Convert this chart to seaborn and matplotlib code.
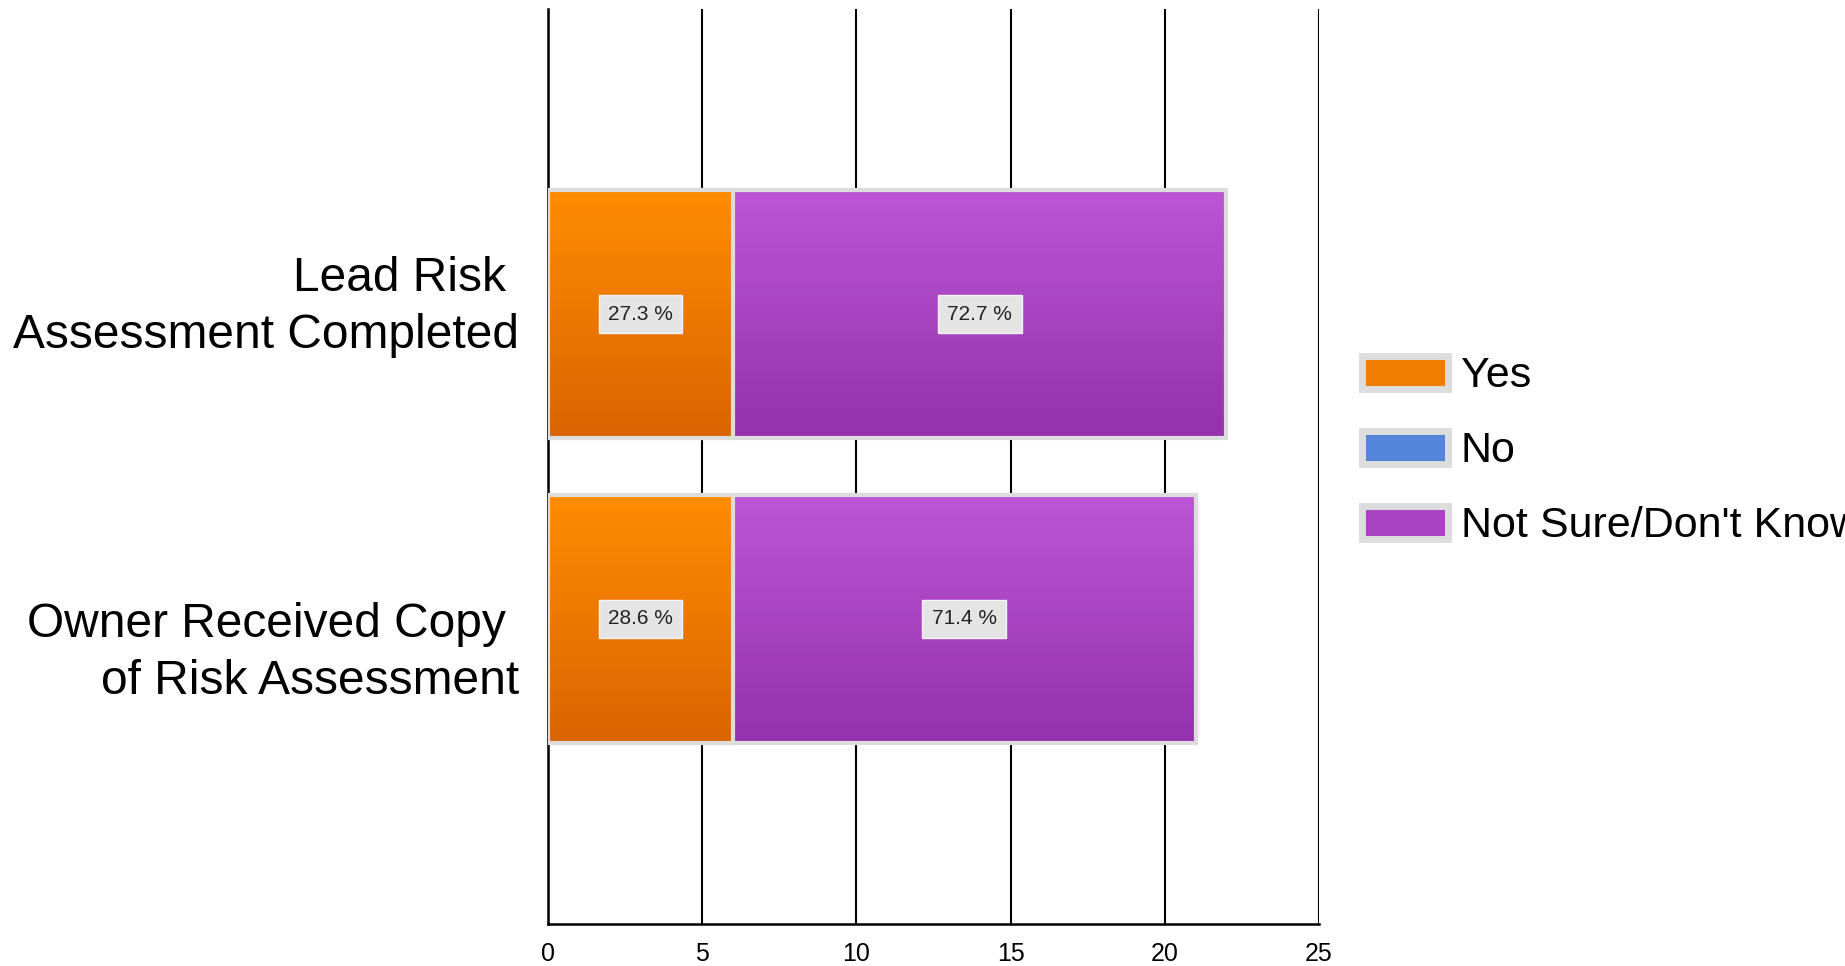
import matplotlib
matplotlib.use('Agg')
import matplotlib.pyplot as plt
import seaborn as sns
import numpy as np
import pandas as pd
from matplotlib.patches import Patch
from matplotlib.colors import LinearSegmentedColormap

# data
categories = ['Lead Risk \nAssessment Completed', 'Owner Received Copy \nof Risk Assessment']
yes_counts = [6, 6]
no_counts = [0, 0]
not_sure_counts = [16, 15]
series_names = ['Yes', 'No', 'Not Sure/Don\'t Know']
x_ticks = [0, 5, 10, 15, 20, 25]

# gradient colours (top, bottom) per series
grad_colors = {
    'Yes': ('#FF8C00', '#D96400'),
    'No': ('#5E95E6', '#4676CC'),
    'Not Sure/Don\'t Know': ('#BC56D5', '#9631AD'),
}
flat_colors = {'Yes': '#F07D00', 'No': '#5585DA', 'Not Sure/Don\'t Know': '#A943C1'}

df = pd.DataFrame({'category': categories, 'Yes': yes_counts,
                   'No': no_counts, 'NotSure': not_sure_counts})
df['total'] = df['Yes'] + df['No'] + df['NotSure']

sns.set_style('white')
plt.rcParams['font.family'] = ['Liberation Sans', 'DejaVu Sans']
plt.rcParams['text.color'] = 'black'
plt.rcParams['xtick.color'] = 'black'
plt.rcParams['ytick.color'] = 'black'

fig = plt.figure(figsize=(18.45, 9.66), dpi=100, facecolor='white')
ax = fig.add_axes([548 / 1845, 1 - 924 / 966, (1319 - 548) / 1845, (924 - 9) / 966])
ax.set_facecolor('white')

# stacked bars: full length (purple) first, then the Yes part on top
sns.barplot(data=df, x='total', y='category', orient='h', color=flat_colors['Not Sure/Don\'t Know'],
            saturation=1, width=0.81, edgecolor='#DDDDDD', linewidth=3, ax=ax, zorder=2)
n_first = len(ax.patches)
sns.barplot(data=df, x='Yes', y='category', orient='h', color=flat_colors['Yes'],
            saturation=1, width=0.81, edgecolor='#DDDDDD', linewidth=3, ax=ax, zorder=4)


def gradient_fill(patch, top, bottom, z):
    x0, y0 = patch.get_x(), patch.get_y()
    w, h = patch.get_width(), patch.get_height()
    cmap = LinearSegmentedColormap.from_list('g', [top, bottom])
    grad = np.linspace(0, 1, 256).reshape(-1, 1)
    im = ax.imshow(grad, cmap=cmap, aspect='auto', origin='upper',
                   extent=(x0, x0 + w, y0 + h, y0), zorder=z, interpolation='bicubic')
    im.set_clip_path(patch)
    patch.set_facecolor('none')


for i, p in enumerate(ax.patches):
    if i < n_first:
        gradient_fill(p, *grad_colors['Not Sure/Don\'t Know'], 1.9)
    else:
        gradient_fill(p, *grad_colors['Yes'], 3.9)

# percentage labels
for i, row in df.iterrows():
    yes_pct = row['Yes'] / row['total'] * 100
    ns_pct = row['NotSure'] / row['total'] * 100
    box = dict(boxstyle='square,pad=0.45', facecolor='#E4E4E4', edgecolor='#F4F4F4', lw=1)
    ax.text(row['Yes'] / 2, i, f'{yes_pct:.1f} %', ha='center', va='center',
            fontsize=15, color='#222222', bbox=box, zorder=6)
    ax.text(row['Yes'] + row['NotSure'] / 2, i, f'{ns_pct:.1f} %', ha='center', va='center',
            fontsize=15, color='#222222', bbox=box, zorder=6)

ax.set_xlim(0, 25)
ax.set_ylim(2, -1)
ax.set_xticks(x_ticks)
ax.set_xticklabels([str(t) for t in x_ticks], fontsize=18)
ax.set_yticks(range(len(categories)))
ax.set_yticklabels([''] * len(categories))
ax.set_yticks(list(ax.get_ylim()), minor=True)
ax.set_xlabel('')
ax.set_ylabel('')

# category labels, sitting a bit off-centre like in the reference
for i, (cat, dy) in enumerate(zip(categories, [5, -24.5])):
    ax.annotate(cat, xy=(0, i), xycoords=('axes fraction', 'data'),
                xytext=(-21, dy), textcoords='offset points',
                ha='right', va='center', fontsize=34.5, linespacing=1.33, color='black')

ax.grid(axis='x', color='black', linewidth=1.5)
ax.grid(axis='y', visible=False)
ax.set_axisbelow(True)
for s in ['top', 'right']:
    ax.spines[s].set_visible(False)
for s in ['left', 'bottom']:
    ax.spines[s].set_color('black')
    ax.spines[s].set_linewidth(1.8)
ax.tick_params(axis='x', direction='out', length=7, width=1.5, color='black', pad=6)
ax.tick_params(axis='y', which='both', direction='out', length=7, width=1.5, color='black')

# legend
handles = [Patch(facecolor=flat_colors[n], edgecolor='#DDDDDD', linewidth=5) for n in series_names]
fig.legend(handles, series_names, loc='center left', bbox_to_anchor=(1340 / 1845, 1 - 451 / 966),
           frameon=False, fontsize=31, handlelength=2.0, handleheight=0.8,
           handletextpad=0.3, labelspacing=0.8, borderpad=0, labelcolor='black')

fig.savefig('out.png', dpi=100, facecolor='white')
